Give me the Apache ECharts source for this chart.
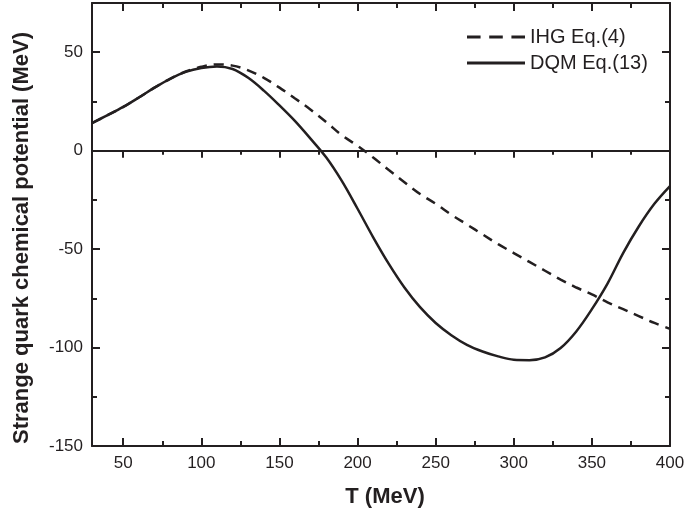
<!DOCTYPE html>
<html>
<head>
<meta charset="utf-8">
<script src="https://cdn.jsdelivr.net/npm/echarts@6/dist/echarts.min.js"></script>
<style>
html,body{margin:0;padding:0;background:#fff;}
#chart{width:684px;height:518px;}
</style>
</head>
<body>
<div id="chart"></div>
<script>
// ---- data ----
const dqmT = [30,40,50,60,70,80,90,100,110,120,130,140,150,160,170,180,190,200,210,220,230,240,250,260,270,280,290,300,310,320,330,340,350,360,370,380,390,400];
const dqmMu = [14,18,22.2,27,32,36.5,40,42,42.8,41.5,37,30.5,23,15,6,-3.5,-15.5,-29.5,-44,-57.5,-69.5,-79.5,-87.5,-93.7,-98.6,-102,-104.5,-106.2,-106.4,-105,-100.2,-91.8,-80.5,-67.5,-52,-38.5,-27,-18];
const ihgT = [30,40,50,60,70,80,90,100,110,120,130,140,150,160,170,180,190,200,210,220,230,240,250,260,270,280,290,300,310,320,330,340,350,360,370,380,390,400];
const ihgMu = [14,18,22.2,27,32,36.5,40.2,42.6,43.8,43.2,40.8,37,32,26.5,20.8,14.5,7.8,2.5,-3.5,-9.8,-16,-22,-27,-32.5,-37.5,-42.5,-47.5,-52,-56.5,-61,-65.5,-69.5,-73,-77,-80.5,-84,-87.5,-90.5];
const seriesNames = ['IHG Eq.(4)', 'DQM Eq.(13)'];
const xTitle = 'T (MeV)';
const yTitle = 'Strange quark chemical potential (MeV)';

const C = '#231f20';
const FF = '"Liberation Sans", Arial, sans-serif';

function xAxisDef(pos, step, opts) {
  return Object.assign({
    type: 'value', min: 30, max: 400, minInterval: step, maxInterval: step,
    position: pos, splitLine: {show: false},
    axisLine: {show: false, onZero: false, lineStyle: {color: C, width: 2}},
    axisTick: {show: true, inside: true, length: step === 50 ? 8 : 5, lineStyle: {color: C, width: 2}},
    axisLabel: {show: false}
  }, opts || {});
}
function yAxisDef(pos, step, opts) {
  return Object.assign({
    type: 'value', min: -150, max: 75, interval: step,
    position: pos, splitLine: {show: false},
    axisLine: {show: false, onZero: false, lineStyle: {color: C, width: 2}},
    axisTick: {show: true, inside: true, length: step === 50 ? 8 : 5, lineStyle: {color: C, width: 2}},
    axisLabel: {show: false}
  }, opts || {});
}

const xAxes = [
  xAxisDef('bottom', 50, {
    axisLine: {show: true, onZero: false, lineStyle: {color: C, width: 2}},
    axisLabel: {show: true, showMinLabel: false, fontSize: 17, color: C, fontFamily: FF, margin: 9}
  }),
  xAxisDef('bottom', 25),
  xAxisDef('top', 50, {axisLine: {show: true, onZero: false, lineStyle: {color: C, width: 2}}}),
  xAxisDef('top', 25),
  xAxisDef('bottom', 50, {
    axisLine: {show: true, onZero: true, onZeroAxisIndex: 0, lineStyle: {color: C, width: 2}},
    axisTick: {show: true, inside: false, length: 7, lineStyle: {color: C, width: 2}}
  }),
  xAxisDef('bottom', 25, {
    axisLine: {show: false, onZero: true, onZeroAxisIndex: 0, lineStyle: {color: C, width: 2}},
    axisTick: {show: true, inside: false, length: 4, lineStyle: {color: C, width: 2}}
  })
];
const yAxes = [
  yAxisDef('left', 50, {
    axisLine: {show: true, onZero: false, lineStyle: {color: C, width: 2}},
    axisLabel: {show: true, showMaxLabel: false, fontSize: 17, color: C, fontFamily: FF, margin: 9,
      formatter: v => (v === 75 ? '' : String(v))}
  }),
  yAxisDef('left', 25),
  yAxisDef('right', 50, {axisLine: {show: true, onZero: false, lineStyle: {color: C, width: 2}}}),
  yAxisDef('right', 25)
];

const dashedIcon = 'path://M0,0h11v2.5h-11z M18,0h11v2.5h-11z M36,0h11v2.5h-11z';
const solidIcon = 'path://M0,0h47v2.5h-47z';

const chart = echarts.init(document.getElementById('chart'), null, {renderer: 'canvas'});
chart.setOption({
  animation: false,
  backgroundColor: '#fff',
  grid: {left: 92, right: 14, top: 3, bottom: 72, containLabel: false, outerBoundsMode: 'none'},
  xAxis: xAxes,
  yAxis: yAxes,
  legend: {
    orient: 'vertical', left: 462, top: 22,
    itemWidth: 58, itemHeight: 14, itemGap: 6,
    textStyle: {fontSize: 20, color: C, fontFamily: FF},
    itemStyle: {color: C, borderWidth: 0},
    data: [
      {name: seriesNames[0], icon: dashedIcon},
      {name: seriesNames[1], icon: solidIcon}
    ]
  },
  graphic: [
    {type: 'text', x: 22, y: 238, rotation: Math.PI / 2,
      style: {text: yTitle, fontSize: 22, fontWeight: 'bold', fontFamily: FF, fill: C, align: 'center', verticalAlign: 'middle'}},
    {type: 'text', x: 385, y: 497,
      style: {text: xTitle, fontSize: 22, fontWeight: 'bold', fontFamily: FF, fill: C, align: 'center', verticalAlign: 'middle'}}
  ],
  series: [
    {
      name: seriesNames[0], type: 'line', xAxisIndex: 0, yAxisIndex: 0,
      data: ihgT.map((t, i) => [t, ihgMu[i]]),
      smooth: 0.35, symbol: 'none', clip: true,
      lineStyle: {color: C, width: 2.5, type: [10, 7]},
      itemStyle: {color: C}
    },
    {
      name: seriesNames[1], type: 'line', xAxisIndex: 0, yAxisIndex: 0,
      data: dqmT.map((t, i) => [t, dqmMu[i]]),
      smooth: 0.35, symbol: 'none', clip: true,
      lineStyle: {color: C, width: 2.5, type: 'solid'},
      itemStyle: {color: C}
    }
  ]
});
</script>
</body>
</html>
